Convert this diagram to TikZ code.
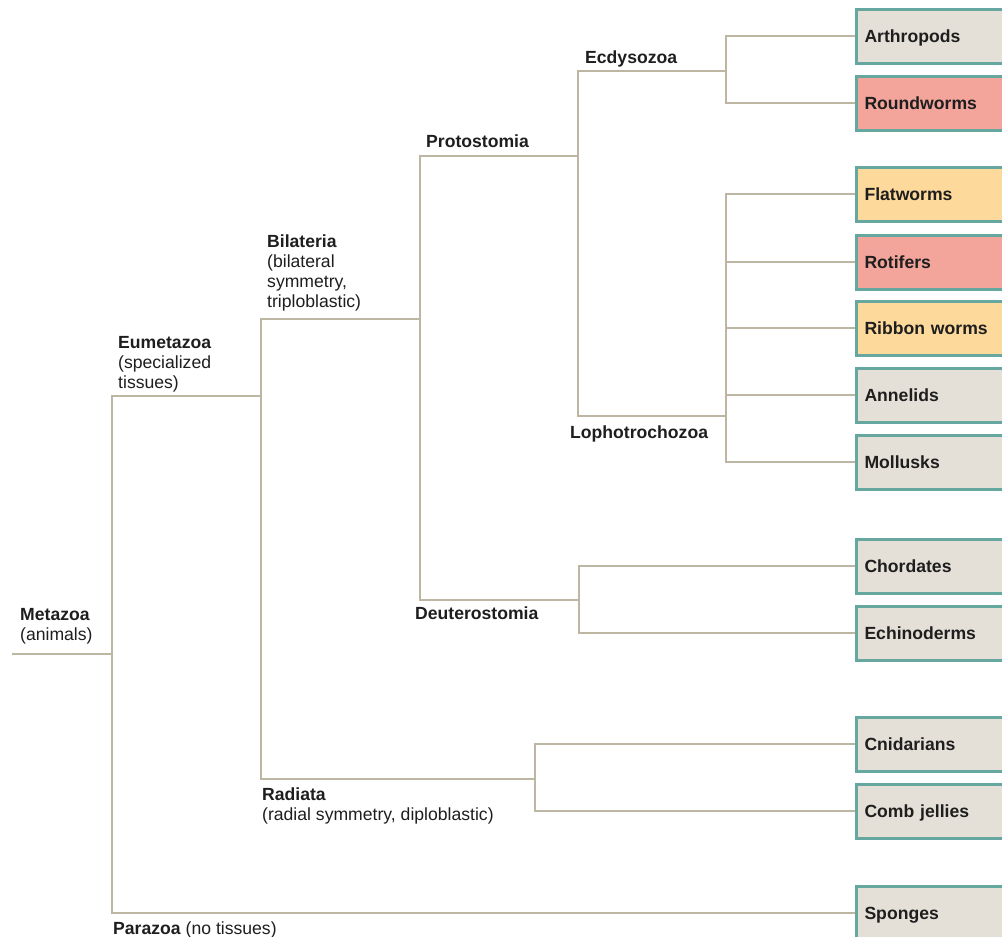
\documentclass[tikz,border=0pt]{standalone}
\usepackage{fontspec}
\setmainfont{Liberation Sans}
\usetikzlibrary{backgrounds}
\definecolor{branch}{HTML}{BDB6A3}
\definecolor{edgeteal}{HTML}{66A89F}
\definecolor{boxgrey}{HTML}{E4E0D8}
\definecolor{boxred}{HTML}{F3A59C}
\definecolor{boxyellow}{HTML}{FDD99C}
\definecolor{ink}{HTML}{1E1E1E}
\begin{document}
\begin{tikzpicture}[x=1pt,y=-1pt,
  font=\fontsize{17.6}{20}\selectfont,
  branchline/.style={draw=branch, line width=2.5pt},
  taxon/.style={draw=edgeteal, line width=3pt, anchor=west, minimum height=54pt,
    text width=150pt, inner xsep=8pt, align=left, text height=13pt, text depth=1pt,
    font=\fontsize{17.6}{20}\selectfont\bfseries, text=ink},
  lbl/.style={anchor=base west, inner sep=0pt, text=ink, align=left}]
\useasboundingbox (0,0) rectangle (1002,937);
\clip (0,0) rectangle (1002,937);

% boxes
\node[taxon, fill=boxgrey]   (arth)  at (855,36)  {Arthropods};
\node[taxon, fill=boxred]    (round) at (855,103) {Roundworms};
\node[taxon, fill=boxyellow] (flat)  at (855,194) {Flatworms};
\node[taxon, fill=boxred]    (rot)   at (855,262) {Rotifers};
\node[taxon, fill=boxyellow] (rib)   at (855,328) {Ribbon worms};
\node[taxon, fill=boxgrey]   (ann)   at (855,395) {Annelids};
\node[taxon, fill=boxgrey]   (moll)  at (855,462) {Mollusks};
\node[taxon, fill=boxgrey]   (chord) at (855,566) {Chordates};
\node[taxon, fill=boxgrey]   (echi)  at (855,633) {Echinoderms};
\node[taxon, fill=boxgrey]   (cnid)  at (855,744) {Cnidarians};
\node[taxon, fill=boxgrey]   (comb)  at (855,811) {Comb jellies};
\node[taxon, fill=boxgrey]   (spon)  at (855,913) {Sponges};

% branch points
\coordinate (r0)   at (12,654);
\coordinate (meta) at (112,654);
\coordinate (eum)  at (261,396);
\coordinate (bil)  at (420,319);
\coordinate (pro)  at (578,156);
\coordinate (deu)  at (579,600);
\coordinate (ecd)  at (726,71);
\coordinate (lop)  at (726,416);
\coordinate (rad)  at (535,779);

\begin{scope}[on background layer]
\draw[branchline] (r0) -- (meta);
\draw[branchline] (eum) -- (eum -| meta) |- (spon.west);
\draw[branchline] (bil) -- (bil -| eum) |- (rad);
\draw[branchline] (pro) -- (pro -| bil) |- (deu);
\draw[branchline] (ecd) -- (ecd -| pro) |- (lop);
\draw[branchline] (arth.west) -- (arth.west -| ecd) |- (round.west);
\draw[branchline] (flat.west) -- (flat.west -| lop) |- (moll.west);
\draw[branchline] (rot.west) -- (rot.west -| lop);
\draw[branchline] (rib.west) -- (rib.west -| lop);
\draw[branchline] (ann.west) -- (ann.west -| lop);
\draw[branchline] (chord.west) -- (chord.west -| deu) |- (echi.west);
\draw[branchline] (cnid.west) -- (cnid.west -| rad) |- (comb.west);
\end{scope}

% labels (multi-line nodes: base = last line baseline)
\node[lbl] (lmeta) at (20,640)  {\textbf{Metazoa}\\(animals)};
\node[lbl] (leum)  at (118,388) {\textbf{Eumetazoa}\\(specialized\\tissues)};
\node[lbl] (lbil)  at (267,307) {\textbf{Bilateria}\\(bilateral\\symmetry,\\triploblastic)};
\node[lbl] (lpro)  at (426,147) {\textbf{Protostomia}};
\node[lbl] (lecd)  at (585,63)  {\textbf{Ecdysozoa}};
\node[lbl] (llop)  at (570,438) {\textbf{Lophotrochozoa}};
\node[lbl] (ldeu)  at (415,619) {\textbf{Deuterostomia}};
\node[lbl] (lrad)  at (262,820) {\textbf{Radiata}\\(radial symmetry, diploblastic)};
\node[lbl] (lpar)  at (113,934) {\textbf{Parazoa} (no tissues)};
\end{tikzpicture}
\end{document}
